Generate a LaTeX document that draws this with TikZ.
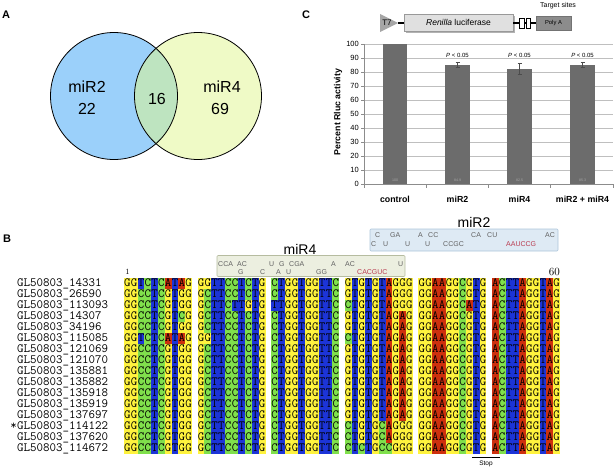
\documentclass[tikz,border=0pt]{standalone}
\usepackage{fontspec}
\setmainfont{Latin Modern Roman}
\setsansfont{Liberation Sans}
\setmonofont{Latin Modern Mono}
\definecolor{ntA}{RGB}{205,48,14}
\definecolor{ntT}{RGB}{28,52,215}
\definecolor{ntC}{RGB}{128,224,76}
\definecolor{ntG}{RGB}{255,243,62}
\definecolor{vblue}{RGB}{155,208,250}
\definecolor{vyellow}{RGB}{239,250,198}
\definecolor{vgreen}{RGB}{190,228,192}
\definecolor{boxfourfill}{RGB}{236,239,224}
\definecolor{boxfourdraw}{RGB}{182,188,160}
\definecolor{boxtwofill}{RGB}{222,234,244}
\definecolor{boxtwodraw}{RGB}{172,197,218}
\definecolor{rnared}{RGB}{185,60,80}
\definecolor{bargray}{RGB}{108,108,108}
\makeatletter
\newcount\ntidx
\newcommand\drawseqrow[7]{%
  \global\ntidx=0
  \@tfor\ntch:=#2#3#4#5#6#7\do{%
    \pgfmathsetmacro\ntx{124+6.8*mod(\the\ntidx,10)+73.6*int(\the\ntidx/10)}%
    \edef\ntcol{nt\ntch}%
    \fill[fill=\ntcol] (\ntx,#1-5.5) rectangle ++(6.85,11.05);
    \node[seqletter] at (\ntx+3.4,#1+3.9) {\ntch};
    \global\advance\ntidx by 1\relax
  }}
\makeatother
\begin{document}
\begin{tikzpicture}[x=1pt,y=-1pt,
  panel/.style={font=\sffamily\bfseries\fontsize{11}{12}\selectfont, inner sep=0pt},
  venntxt/.style={font=\sffamily\fontsize{16}{18}\selectfont, inner sep=0pt},
  seqletter/.style={inner sep=0pt, anchor=base, font=\ttfamily\fontsize{12.5}{11}\selectfont},
  namelbl/.style={inner sep=0pt, anchor=base west, font=\ttfamily\fontsize{12.6}{11}\selectfont},
  boxtxt/.style={inner sep=0pt, anchor=base west, text=black!62, font=\sffamily\fontsize{7}{7.5}\selectfont},
  redtxt/.style={boxtxt, text=rnared},
  mirlbl/.style={inner sep=0pt, font=\sffamily\fontsize{14}{15}\selectfont},
  gridln/.style={draw=black!25, line width=0.5pt},
  axisln/.style={draw=black!45, line width=0.6pt},
  ticklbl/.style={inner sep=0pt, anchor=east, font=\sffamily\fontsize{7.5}{8}\selectfont},
  barfill/.style={fill=bargray},
  errbar/.style={draw=black!70, line width=0.5pt},
  vallbl/.style={inner sep=0pt, text=black!35, font=\sffamily\fontsize{3.6}{4}\selectfont},
  xlbl/.style={inner sep=0pt, font=\sffamily\bfseries\fontsize{8.8}{10}\selectfont},
  plbl/.style={inner sep=0pt, font=\sffamily\fontsize{6}{7}\selectfont},
  smalltxt/.style={inner sep=0pt, font=\sffamily\fontsize{7}{8}\selectfont}]
\useasboundingbox (0,0) rectangle (615,469);

% ---------------- Panel A: Venn
\node[panel] (lblA) at (6,15) {A};
\fill[vblue] (114,96) circle[radius=63.5pt];
\fill[vyellow] (198,96) circle[radius=63.5pt];
\begin{scope}
  \clip (114,96) circle[radius=63.5pt];
  \fill[vgreen] (198,96) circle[radius=63.5pt];
\end{scope}
\draw[line width=0.8pt] (114,96) circle[radius=63.5pt];
\draw[line width=0.8pt] (198,96) circle[radius=63.5pt];
\node[venntxt] (m2) at (87,87) {miR2};
\node[venntxt] (n22) at (87,109) {22};
\node[venntxt] (n16) at (157,99) {16};
\node[venntxt] (m4) at (222,87) {miR4};
\node[venntxt] (n69) at (220,109) {69};

% ---------------- Panel C: construct
\node[panel] (lblC) at (306,15) {C};
\node[smalltxt] (tsites) at (558,6) {Target sites};
\fill[black!35] (380,14) -- (398,23) -- (380,32) -- cycle;
\node[inner sep=0pt, font=\sffamily\fontsize{8}{9}\selectfont] (t7) at (387,23) {T7};
\draw[line width=1.4pt] (398,23) -- (404,23);
\fill[black!30] (406,16) rectangle (515,33);
\filldraw[fill=black!12, draw=black!40, line width=0.4pt] (404,14) rectangle (513,31);
\node[inner sep=0pt, font=\sffamily\fontsize{8.5}{9}\selectfont] (rluc) at (458.5,22.5) {\textit{Renilla} luciferase};
\draw[line width=1.4pt] (513,23) -- (536,23);
\filldraw[fill=white, draw=black, line width=1pt] (519.5,18) rectangle (524,28);
\filldraw[fill=white, draw=black, line width=1pt] (526,18) rectangle (530.5,28);
\filldraw[fill=black!45, draw=black!55, line width=0.4pt] (536,16) rectangle (571,30);
\node[inner sep=0pt, font=\sffamily\fontsize{5.8}{6}\selectfont] (polya) at (553.5,23) {Poly A};

% ---------------- Panel C: bar chart
\foreach \v in {10,20,...,100}
  \draw[gridln] (364,{184-1.4*\v}) -- (613,{184-1.4*\v});
\foreach \v in {0,10,...,100} {
  \draw[axisln] (361,{184-1.4*\v}) -- (364,{184-1.4*\v});
  \node[ticklbl] at (359,{184-1.4*\v}) {\v};
}
\draw[axisln] (364,44) -- (364,184) -- (613,184);
\foreach \xx in {364,426.25,488.5,550.75,613}
  \draw[axisln] (\xx,184) -- (\xx,188);
\node[xlbl, rotate=90] (ylab) at (338,112) {Percent Rluc activity};
% control
\fill[barfill] (383,184) rectangle (407,44);
\node[vallbl] at (395,180) {100};
\node[xlbl] (xc) at (395,199) {control};
\foreach \c/\v/\e/\lab in {457.5/84.9/1.8/miR2, 519.5/82.5/3.9/miR4, 582.5/85.3/1.6/miR2 + miR4} {
  \fill[barfill] (\c-12.5,184) rectangle (\c+12.5,{184-1.4*\v});
  \draw[errbar] (\c,{184-1.4*(\v+\e)}) -- (\c,{184-1.4*(\v-\e)});
  \draw[errbar] (\c-2,{184-1.4*(\v+\e)}) -- (\c+2,{184-1.4*(\v+\e)});
  \draw[errbar] (\c-2,{184-1.4*(\v-\e)}) -- (\c+2,{184-1.4*(\v-\e)});
  \node[vallbl] at (\c,180) {\v};
  \node[xlbl] at (\c,199) {\lab};
  \node[plbl] at (\c,55) {\textit{P} < 0.05};
}

% ---------------- Panel B
\node[panel] (lblB) at (7,239) {B};
% miR2 box
\node[mirlbl] (mirtwo) at (474,222.5) {miR2};
\filldraw[fill=boxtwofill, draw=boxtwodraw, line width=0.6pt, rounded corners=1pt] (370,229) rectangle (558,251);
\node[boxtxt] at (375,237) {C};
\node[boxtxt] at (390,237) {GA};
\node[boxtxt] at (418,237) {A};
\node[boxtxt] at (428,237) {CC};
\node[boxtxt] at (471,237) {CA};
\node[boxtxt] at (487,237) {CU};
\node[boxtxt] at (545,237) {AC};
\node[boxtxt] at (371,246) {C};
\node[boxtxt] at (383,246) {U};
\node[boxtxt] at (405,246) {U};
\node[boxtxt] at (425,246) {U};
\node[boxtxt] at (443,246) {CCGC};
\node[redtxt] at (506,246) {AAUCCG};
% miR4 box
\node[mirlbl] (mirfour) at (300,249) {miR4};
\filldraw[fill=boxfourfill, draw=boxfourdraw, line width=0.6pt, rounded corners=1pt] (217,255.5) rectangle (405,276.5);
\node[boxtxt] at (218,266) {CCA};
\node[boxtxt] at (237,266) {AC};
\node[boxtxt] at (269,266) {U};
\node[boxtxt] at (279,266) {G};
\node[boxtxt] at (289,266) {CGA};
\node[boxtxt] at (331,266) {A};
\node[boxtxt] at (345,266) {AC};
\node[boxtxt] at (398,266) {U};
\node[boxtxt] at (238,274.5) {G};
\node[boxtxt] at (260,274.5) {C};
\node[boxtxt] at (276,274.5) {A};
\node[boxtxt] at (286,274.5) {U};
\node[boxtxt] at (316,274.5) {GG};
\node[redtxt] at (357,274.5) {CACGUC};
% position labels
\node[inner sep=0pt, font=\rmfamily\fontsize{8}{9}\selectfont] (pos1) at (127.5,272) {1};
\node[inner sep=0pt, anchor=east, font=\rmfamily\fontsize{11}{12}\selectfont] (pos60) at (560,272) {60};

% sequence names
\foreach \i/\nm in {1/14331,2/26590,3/113093,4/14307,5/34196,6/115085,7/121069,8/121070,9/135881,10/135882,11/135918,12/135919,13/137697,14/114122,15/137620,16/114672}
  \node[namelbl] (name\i) at (17,{283+11*(\i-1)+3.9}) {GL50803\_\nm};
\node[namelbl, anchor=base east] (star) at (17,{426+3.9}) {*};

% alignment
\drawseqrow{283}{GGTCTCATAG}{GGTTCCTCTG}{CTGGTGGTTC}{GTGTGTAGGG}{GGAAGGCGTG}{ACTTAGGTAG}
\drawseqrow{294}{GGCCTCGTGG}{GCTTCCTCTG}{CTGGTGGTTC}{GTGTGTAGGG}{GGAAGGCGTG}{ACTTAGGTAG}
\drawseqrow{305}{GGCCTCGTGG}{GCTTCTTGTG}{TTGGTGGTTC}{CTGTGTAGGG}{GGAAGGCATG}{ACTTAGGTAG}
\drawseqrow{316}{GGCCTCGTCG}{GCTTCCTCTG}{CTGGTGGTTC}{GTGTGTAGAG}{GGAAGGCGTG}{ACTTAGGTAG}
\drawseqrow{327}{GGCCTCGTGG}{GCTTCCTCTG}{CTGGTGGTTC}{GTGTGTAGAG}{GGAAGGCGTG}{ACTTAGGTAG}
\drawseqrow{338}{GGTCTCATAG}{GGTTCCTCTG}{CTGGTGGTTC}{CTGTGTAGAG}{GGAAGGCGTG}{ACTTAGGTAG}
\drawseqrow{349}{GGCCTCGTGG}{GCTTCCTCTG}{CTGGTGGTTC}{GTGTGTAGAG}{GGAAGGCGTG}{ACTTAGGTAG}
\drawseqrow{360}{GGCCTCGTGG}{GCTTCCTCTG}{CTGGTGGTTC}{GTGTGTAGAG}{GGAAGGCGTG}{ACTTAGGTAG}
\drawseqrow{371}{GGCCTCGTGG}{GCTTCCTCTG}{CTGGTGGTTC}{GTGTGTAGAG}{GGAAGGCGTG}{ACTTAGGTAG}
\drawseqrow{382}{GGCCTCGTGG}{GCTTCCTCTG}{CTGGTGGTTC}{GTGTGTAGAG}{GGAAGGCGTG}{ACTTAGGTAG}
\drawseqrow{393}{GGCCTCGTGG}{GCTTCCTCTG}{CTGGTGGTTC}{GTGTGTAGAG}{GGAAGGCGTG}{ACTTAGGTAG}
\drawseqrow{404}{GGCCTCGTGG}{GCTTCCTCTG}{CTGGTGGTTC}{GTGTGTAGAG}{GGAAGGCGTG}{ACTTAGGTAG}
\drawseqrow{415}{GGCCTCGTGG}{GCTTCCTCTG}{CTGGTGGTTC}{GTGTGTAGAG}{GGAAGGCGTG}{ACTTAGGTAG}
\drawseqrow{426}{GGCCTCGTGG}{GCTTCCTCTG}{CTGGTGGTTC}{CTGTGCAGGG}{GGAAGGCGTG}{ACTTAGGTAG}
\drawseqrow{437}{GGCCTCGTGG}{GCTTCCTCTG}{CTGGTGGTTC}{CTGTGCAGGG}{GGAAGGCGTG}{ACTTAGGTAG}
\drawseqrow{448}{GGCCTCGTGG}{GCTTCCTCTG}{CTGGTGGTTC}{CTCTGCCGGG}{GGAAGGCGTG}{ACTTAGGTAG}

% stop codon marker
\coordinate (stopL) at (472,457.5);
\coordinate (stopR) at (500,457.5);
\draw[line width=1.4pt] (stopL) -- (stopR);
\node[inner sep=0pt, font=\sffamily\fontsize{6.5}{7}\selectfont] (stop) at (486,464) {Stop};
\end{tikzpicture}
\end{document}
